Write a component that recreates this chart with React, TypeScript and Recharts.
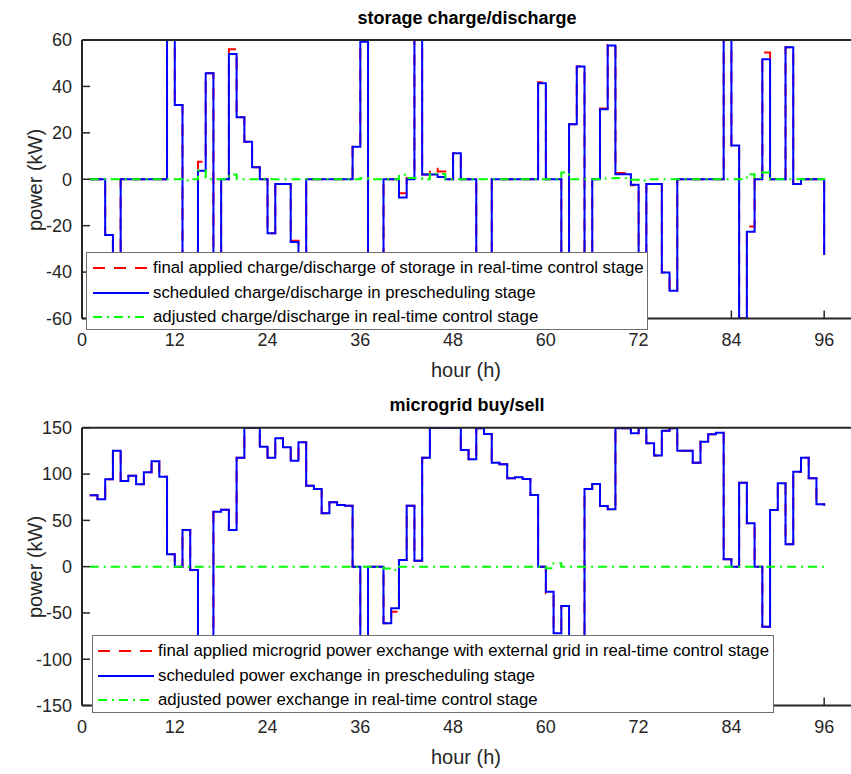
import React from "react";
import { LineChart, Line, XAxis, YAxis, Legend } from "recharts";

const FONT = '"Liberation Sans", Arial, sans-serif';
const INK = "#262626";

const HOURS = Array.from({ length: 96 }, (_, i) => i + 1);
const X_TICKS = [0, 12, 24, 36, 48, 60, 72, 84, 96];

// storage charge/discharge, kW, hours 1..96 (values under the legend are guesses)
const STORAGE_FINAL = [
  0, 0, -24, -45, 0, 0, 0, 0, 0, 0,
  60, 32, -50.5, -50, 7.5, 45.7, -45, 0, 56, 26.7,
  16.2, 5.2, 0, -23.3, -2, -2, -26.5, -45, 0, 0,
  0, 0, 0, 0, 14, 59.8, -55, -55, 0, 0,
  -6, 0.5, 60, 2, 4.5, 3.3, 0, 11.2, 0, 0,
  -45, -45, 0, 0, 0, 0, 0, 0, 41.8, 0,
  0, -37, 23.7, 48.6, -45, 0, 30.5, 58, 2.7, 2.6,
  -2.6, -35.5, -2, -2, -40.2, -48, 0, 0, 0, 0,
  0, 0, 60, 14.5, -60, -20.4, 0.5, 54.6, 0, 0,
  56.9, -2, 0, 0, 0, -32.1,
];
const STORAGE_SCHEDULED = [
  0, 0, -24, -45, 0, 0, 0, 0, 0, 0,
  60, 32, -50, -50, 3.7, 45.7, -45, 0, 54, 26.7,
  16.2, 5.2, 0, -23.3, -2, -2, -27, -45, 0, 0,
  0, 0, 0, 0, 14, 59.3, -55, -55, 0, 0,
  -7.9, 0, 60, 2, 2, 1, 0, 11.2, 0, 0,
  -45, -45, 0, 0, 0, 0, 0, 0, 41.4, 0,
  0, -40, 23.7, 48.6, -45, 0, 30.2, 57.6, 2.2, 2.2,
  -2.4, -35, -2, -2, -40.2, -48, 0, 0, 0, 0,
  0, 0, 60, 14.5, -60, -22.6, 0, 51.7, 0, 0,
  56.9, -2, 0, 0, 0, -32.6,
];
const STORAGE_ADJUSTED = [
  0, 0, 0, 0, 0, 0, 0, 0, 0, 0,
  0, 0, -0.5, 0, 3.8, 0, 0, 0, 2, 0,
  0, 0, 0, 0, 0, 0, 0, 0, 0, 0,
  0, 0, 0, 0, 0, 0.5, 0, 0, 0, 0,
  1.9, 0.5, 0.5, 0, 2.5, 2.3, 0, 0, 0, 0,
  0, 0, 0, 0, 0, 0, 0, 0, 0, 0,
  0, 2.9, 0, 0, 0, 0, 0.3, 0.4, 0.5, 0.4,
  -0.2, -0.5, 0, 0, 0, 0, 0, 0, 0, 0,
  0, 0, 0, 0, 0, 2.2, 0.5, 2.9, 0, 0,
  0, 0, 0, 0, 0, 0.5,
];
const STORAGE_TICKS = [-60, -40, -20, 0, 20, 40, 60];

// microgrid buy/sell, kW
const GRID_FINAL = [
  77, 72.7, 94.3, 125.3, 92.5, 98.3, 88.9, 101.9, 113.8, 97.2,
  13.3, 0, 39.6, -3.6, -100, -100, 59.4, 61.6, 39.6, 117.7,
  150, 150, 129.6, 117.7, 138.6, 128.9, 114.5, 134.3, 87.5, 83.9,
  57.6, 69.5, 66.6, 65.9, 0, -100, 0, 0, -61.2, -48.6,
  7.2, 65.9, 6.5, 117.7, 150, 150, 150, 150, 126, 115.9,
  149.4, 143.3, 112.3, 110.5, 95.4, 96.5, 94.7, 77.4, 0, -28.8,
  -68.4, -42.5, -100, -100, 83.9, 89.3, 65.5, 61.9, 149.4, 149.4,
  144, 150, 133.2, 120, 146.9, 149.4, 125.3, 125.3, 112.3, 135,
  142.9, 144.7, 7.9, 0, 90.7, 46.8, 0, -64.8, 61.2, 90,
  24.1, 102.6, 117.7, 95.4, 67.3, 65.9,
];
const GRID_SCHEDULED = [
  77, 72.7, 94.3, 125.3, 92.5, 98.3, 88.9, 101.9, 113.8, 97.2,
  13.3, 0, 39.6, -3.6, -100, -100, 59.4, 61.6, 39.6, 117.7,
  150, 150, 129.6, 117.7, 138.6, 128.9, 114.5, 134.3, 87.5, 83.9,
  57.6, 69.5, 66.6, 65.9, 0, -100, 0, 0, -61.2, -45,
  7.2, 65.9, 6.5, 117.7, 150, 150, 150, 150, 126, 115.9,
  149.4, 143.3, 112.3, 110.5, 95.4, 96.5, 94.7, 77.4, 0, -27,
  -72, -42.5, -100, -100, 83.9, 89.3, 65.5, 61.9, 149.4, 149.4,
  144, 150, 133.2, 120, 146.9, 149.4, 125.3, 125.3, 112.3, 135,
  142.9, 144.7, 7.9, 0, 90.7, 46.8, 0, -64.8, 61.2, 90,
  24.1, 102.6, 117.7, 95.4, 67.3, 65.9,
];
const GRID_ADJUSTED = [
  0, 0, 0, 0, 0, 0, 0, 0, 0, 0,
  0, 0, 0, 0, 0, 0, 0, 0, 0, 0,
  0, 0, 0, 0, 0, 0, 0, 0, 0, 0,
  0, 0, 0, 0, 0, 0, 0, -0.5, -2, -3.6,
  0, 0, 0, 0, 0, 0, 0, 0, 0, 0,
  0, 0, 0, 0, 0, 0, 0, 0, 0, -1.8,
  3.6, 0, 0, 0, 0, 0, 0, 0, 0, 0,
  0, 0, 0, 0, 0, 0, 0, 0, 0, 0,
  0, 0, 0, 0, 0, 0, 0, 0, 0, 0,
  0, 0, 0, 0, 0, 0,
];
const GRID_TICKS = [-150, -100, -50, 0, 50, 100, 150];

const STORAGE_LABELS = [
  "final applied charge/discharge of storage in real-time control stage",
  "scheduled charge/discharge in prescheduling stage",
  "adjusted charge/discharge in real-time control stage",
];
const GRID_LABELS = [
  "final applied microgrid power exchange with external grid in real-time control stage",
  "scheduled power exchange in prescheduling stage",
  "adjusted power exchange in real-time control stage",
];

const SERIES = [
  { key: "final", color: "#ff0000", dash: "12 9" },
  { key: "scheduled", color: "#0000ff", dash: undefined },
  { key: "adjusted", color: "#00ff00", dash: "9 5 2 5" },
];

const CHART_W = 860;
const CHART_H = 387;

function LegendBox({ labels, sampleLeft }: { labels: string[]; sampleLeft: number }) {
  return (
    <div style={{ background: "#fff", border: "1px solid #6e6e6e", height: "100%", boxSizing: "border-box", paddingTop: 3 }}>
      {SERIES.map((s, i) => (
        <div key={s.key} style={{ display: "flex", alignItems: "center", height: 24.6 }}>
          <svg width={56} height={6} style={{ marginLeft: sampleLeft, flex: "none" }}>
            <line x1={0} y1={3} x2={56} y2={3} stroke={s.color} strokeWidth={2} strokeDasharray={s.dash} />
          </svg>
          <span style={{ marginLeft: 4, fontFamily: FONT, fontSize: 16.8, color: "#000", whiteSpace: "nowrap" }}>{labels[i]}</span>
        </div>
      ))}
    </div>
  );
}

type PanelProps = {
  top: number;
  plotTop: number;
  final: number[];
  scheduled: number[];
  adjusted: number[];
  yTicks: number[];
  labels: string[];
  legend: { left: number; top: number; width: number; height: number; sampleLeft: number };
};

function Panel({ top, plotTop, final, scheduled, adjusted, yTicks, labels, legend }: PanelProps) {
  const data = HOURS.map((h, i) => ({ hour: h, final: final[i], scheduled: scheduled[i], adjusted: adjusted[i] }));
  const yDomain = [yTicks[0], yTicks[yTicks.length - 1]];
  const plotBottom = 318.5;
  const tickStyle = { fill: INK, fontSize: 18, fontFamily: FONT };
  const axisLine = { stroke: INK, strokeWidth: 2 };
  const tickLine = { stroke: INK, strokeWidth: 1.5 };
  return (
    <div style={{ position: "absolute", left: 0, top }}>
      <LineChart
        width={CHART_W}
        height={CHART_H}
        data={data}
        margin={{ top: plotTop - 1, right: 7, bottom: CHART_H - plotBottom - 30, left: 22 }}
      >
        <XAxis
          xAxisId="b" dataKey="hour" type="number" domain={[0, 99.6]} ticks={X_TICKS}
          allowDataOverflow height={30} tickSize={-8} tickMargin={23}
          tick={tickStyle} axisLine={axisLine} tickLine={tickLine} interval={0}
        />
        <XAxis
          xAxisId="t" orientation="top" dataKey="hour" type="number" domain={[0, 99.6]} ticks={X_TICKS}
          allowDataOverflow height={1} tickSize={-8} tick={false} axisLine={axisLine} tickLine={tickLine} interval={0}
        />
        <YAxis
          yAxisId="l" type="number" domain={yDomain} ticks={yTicks} allowDataOverflow width={60}
          tickSize={-8} tickMargin={18} tick={tickStyle} axisLine={axisLine} tickLine={tickLine} interval={0}
        />
        <YAxis
          yAxisId="r" orientation="right" type="number" domain={yDomain} ticks={yTicks} allowDataOverflow width={1}
          tickSize={-8} tick={false} axisLine={axisLine} tickLine={tickLine} interval={0}
        />
        {SERIES.map((s) => (
          <Line
            key={s.key} xAxisId="b" yAxisId="l" type="stepAfter" dataKey={s.key}
            stroke={s.color} strokeWidth={2} strokeDasharray={s.dash}
            dot={false} activeDot={false} isAnimationActive={false}
          />
        ))}
        <Legend
          layout="vertical" align="center" verticalAlign="middle"
          wrapperStyle={{ left: legend.left, top: legend.top, width: legend.width, height: legend.height }}
          content={() => <LegendBox labels={labels} sampleLeft={legend.sampleLeft} />}
        />
      </LineChart>
    </div>
  );
}

const textBase: React.CSSProperties = { position: "absolute", fontFamily: FONT, whiteSpace: "nowrap", lineHeight: 1 };

export default function App() {
  return (
    <div style={{ position: "absolute", left: 0, top: 0, width: 851, height: 774, overflow: "hidden", background: "#fff" }}>
      <Panel
        top={0} plotTop={40} final={STORAGE_FINAL} scheduled={STORAGE_SCHEDULED} adjusted={STORAGE_ADJUSTED}
        yTicks={STORAGE_TICKS} labels={STORAGE_LABELS}
        legend={{ left: 86, top: 252, width: 562, height: 78, sampleLeft: 6 }}
      />
      <Panel
        top={387} plotTop={40.8} final={GRID_FINAL} scheduled={GRID_SCHEDULED} adjusted={GRID_ADJUSTED}
        yTicks={GRID_TICKS} labels={GRID_LABELS}
        legend={{ left: 92, top: 248, width: 682, height: 78, sampleLeft: 5 }}
      />

      <div style={{ ...textBase, left: 467, top: 18, transform: "translate(-50%,-50%)", fontSize: 18, fontWeight: "bold", color: "#000" }}>
        storage charge/discharge
      </div>
      <div style={{ ...textBase, left: 467, top: 405, transform: "translate(-50%,-50%)", fontSize: 18, fontWeight: "bold", color: "#000" }}>
        microgrid buy/sell
      </div>
      <div style={{ ...textBase, left: 466, top: 370, transform: "translate(-50%,-50%)", fontSize: 20, color: INK }}>hour (h)</div>
      <div style={{ ...textBase, left: 466, top: 757, transform: "translate(-50%,-50%)", fontSize: 20, color: INK }}>hour (h)</div>
      <div style={{ ...textBase, left: 35, top: 180, transform: "translate(-50%,-50%) rotate(-90deg)", fontSize: 20, color: INK }}>power (kW)</div>
      <div style={{ ...textBase, left: 35, top: 567, transform: "translate(-50%,-50%) rotate(-90deg)", fontSize: 20, color: INK }}>power (kW)</div>
    </div>
  );
}
